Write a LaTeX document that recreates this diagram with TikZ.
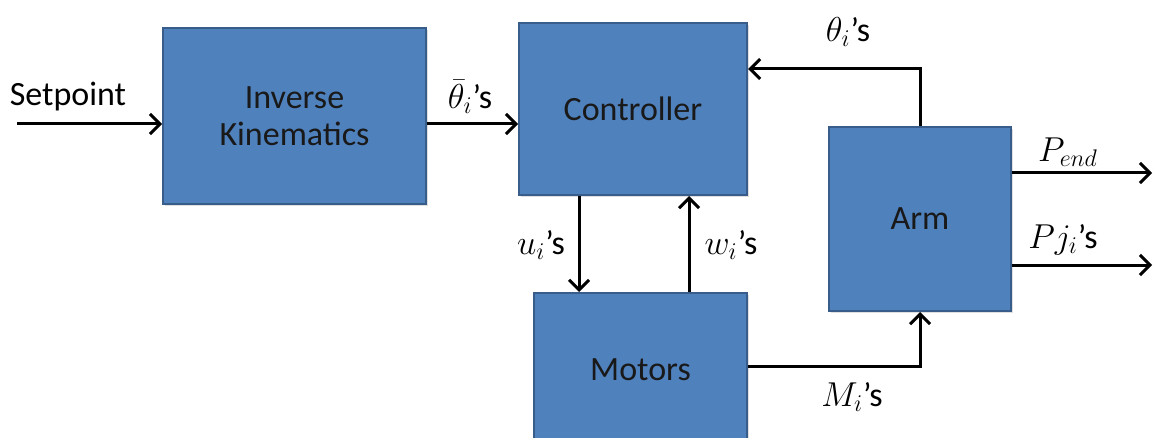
\documentclass[tikz,border=0pt]{standalone}
\usepackage{fontspec}
\setmainfont{Carlito}
\usetikzlibrary{arrows.meta,shadows}
\definecolor{boxfill}{HTML}{4F81BD}
\definecolor{boxline}{HTML}{385D8A}
\begin{document}
\begin{tikzpicture}[x=0.5pt,y=-0.5pt,
  block/.style={draw=boxline, line width=1pt, fill=boxfill, inner sep=0pt,
    align=center, font=\fontsize{17}{18.5}\selectfont, text=black!90,
    drop shadow={shadow xshift=1pt, shadow yshift=-1pt, opacity=0.25}},
  conn/.style={line width=1.5pt, -{Straight Barb[length=5pt,width=10pt,line width=1.5pt]}},
  lbl/.style={font=\fontsize{17}{19}\selectfont, inner sep=0pt}]
\useasboundingbox (0,0) rectangle (1154,438);
\fill[white] (0,0) rectangle (1154,438);

\node[block, minimum width=131.5pt, minimum height=88pt] (ik) at (294.5,116) {Inverse\\Kinematics};
\node[block, minimum width=114pt, minimum height=86pt] (ctrl) at (633,109) {Controller};
\node[block, minimum width=91pt, minimum height=92pt] (arm) at (920,219) {Arm};
\node[block, minimum width=106.5pt, minimum height=77pt] (mot) at (640.5,370) {Motors};

\coordinate (sp) at (17,124);
\coordinate (fb) at (920,69);
\coordinate (corner) at (920,366);
\coordinate (pe) at (1152,173);
\coordinate (pj) at (1152,265);
\coordinate (ux) at (579,0);
\coordinate (wx) at (689,0);

\draw[conn] (sp) -- (sp -| ik.west);
\draw[conn] (ik.east |- sp) -- (ctrl.west |- sp);
\draw[conn] (ctrl.south -| ux) -- (mot.north -| ux);
\draw[conn] (mot.north -| wx) -- (ctrl.south -| wx);
\draw[conn] (arm.north) -- (fb) -- (ctrl.east |- fb);
\draw[conn] (mot.east |- corner) -- (corner) -- (arm.south);
\draw[conn] (arm.east |- pe) -- (pe);
\draw[conn] (arm.east |- pj) -- (pj);

\node[lbl] (lsp) at (68,97) {Setpoint};
\node[lbl] (lth) at (470,97) {$\bar{\theta}_i$’s};
\node[lbl] (lfb) at (848,32) {$\theta_i$’s};
\node[lbl] (lu) at (541,245) {$u_i$’s};
\node[lbl] (lw) at (731,245) {$w_i$’s};
\node[lbl] (lm) at (852,397) {$M_i$’s};
\node[lbl] (lpe) at (1068,152) {$P_{end}$};
\node[lbl] (lpj) at (1063,240) {$Pj_i$’s};
\end{tikzpicture}
\end{document}
